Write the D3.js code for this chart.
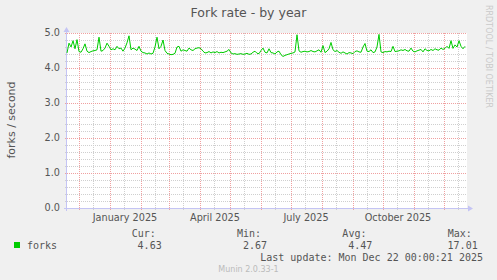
<!DOCTYPE html>
<meta charset="utf-8">
<script src="https://d3js.org/d3.v7.min.js"></script>
<style>
  body { margin: 0; background: #f0f0f0; }
  svg { display: block; }
  text { font-family: "DejaVu Sans", sans-serif; fill: #555; }
  .mono { font-family: "DejaVu Sans Mono", monospace; }
</style>
<div id="chart"></div>
<script>

// first sample and spacing of the samples (days)
var firstSample = new Date(Date.UTC(2024, 10, 19));
var stepDays = 2;

// fork rate, one value every two days
var forks = [
  4.43, 4.71, 4.60, 4.78, 4.55, 4.81, 4.47, 4.45, 4.55, 4.69, 4.48, 4.44, 4.47, 4.49, 4.50, 4.52,
  4.88, 4.48, 4.50, 4.57, 4.71, 4.62, 4.52,
  4.55, 4.52, 4.62, 4.55, 4.57, 4.48, 4.57, 4.72, 4.92, 4.52, 4.57, 4.54, 4.50, 4.62, 4.48, 4.44,
  4.43, 4.40, 4.43, 4.40, 4.42, 4.60, 4.88, 4.55, 4.62, 4.80, 4.50, 4.42, 4.40, 4.38, 4.39, 4.42,
  4.60, 4.62, 4.48, 4.52, 4.50, 4.48, 4.57, 4.52, 4.50, 4.55, 4.57, 4.58,
  4.55, 4.48, 4.43, 4.44, 4.47, 4.43, 4.46, 4.44, 4.47, 4.43, 4.45, 4.44, 4.46, 4.48, 4.53, 4.43,
  4.40, 4.41, 4.39, 4.40, 4.41, 4.39, 4.40, 4.42, 4.39, 4.40, 4.45, 4.48, 4.42, 4.41, 4.50, 4.57,
  4.45, 4.43, 4.55, 4.44, 4.43, 4.40, 4.46, 4.48, 4.38, 4.33, 4.36, 4.38, 4.40, 4.42, 4.43, 4.46,
  4.95, 4.49, 4.45, 4.47, 4.48, 4.46, 4.47, 4.50, 4.47, 4.46, 4.49, 4.52, 4.45, 4.64, 4.44, 4.48,
  4.55, 4.73, 4.52,
  4.47, 4.50, 4.45, 4.42, 4.46, 4.43, 4.40, 4.44, 4.43, 4.41, 4.47, 4.49, 4.46, 4.45, 4.60, 4.70,
  4.48, 4.47, 4.52, 4.44, 4.46, 4.60, 4.96, 4.46, 4.44, 4.47, 4.46, 4.48, 4.47, 4.62, 4.47, 4.48,
  4.49, 4.52, 4.50, 4.53, 4.49, 4.48, 4.57, 4.48, 4.46, 4.49, 4.51, 4.53, 4.46, 4.55, 4.50, 4.49,
  4.53, 4.50, 4.55, 4.52, 4.51, 4.57, 4.53, 4.56, 4.62, 4.56, 4.78, 4.56, 4.66, 4.60, 4.78, 4.62,
  4.55, 4.62
];

var yTicks = [0, 1, 2, 3, 4, 5];
var statNames = ["Cur:", "Min:", "Avg:", "Max:"];
var statValues = ["4.63", "2.67", "4.47", "17.01"];

var width = 497, height = 280;
var plot = {left: 67, right: 467, top: 33, bottom: 208};

var svg = d3.select("#chart")
  .append("svg")
    .attr("width", width)
    .attr("height", height);

svg.append("rect")
  .attr("width", width)
  .attr("height", height)
  .attr("fill", "#f0f0f0");

// 400 days shown in the yearly graph
var x = d3.scaleUtc()
  .domain([firstSample, d3.utcDay.offset(firstSample, 400)])
  .range([plot.left, plot.right]);

var y = d3.scaleLinear()
  .domain([0, 5])
  .range([plot.bottom, plot.top]);

svg.append("rect")
  .attr("x", plot.left)
  .attr("y", plot.top)
  .attr("width", plot.right - plot.left)
  .attr("height", plot.bottom - plot.top)
  .attr("fill", "#ffffff");

function px(v) { return Math.round(v) + 0.5; }

// horizontal grid
var minorY = d3.range(0, 5.01, 0.2).filter(function(v) {
  return Math.abs(v - Math.round(v)) > 0.01;
});
svg.append("g").selectAll("line")
  .data(minorY)
  .enter().append("line")
    .attr("x1", plot.left - 2)
    .attr("x2", plot.right)
    .attr("y1", function(d) { return px(y(d)); })
    .attr("y2", function(d) { return px(y(d)); })
    .attr("stroke", "#cfcfcf")
    .attr("stroke-dasharray", "1,1");

// vertical grid, middle of each month
var months = d3.utcMonth.range(d3.utcMonth.floor(x.domain()[0]), x.domain()[1]);
var midMonths = months.map(function(m) { return d3.utcDay.offset(m, 14); })
  .filter(function(d) { return d > x.domain()[0] && d < x.domain()[1]; });

svg.append("g").selectAll("line")
  .data(midMonths)
  .enter().append("line")
    .attr("x1", function(d) { return px(x(d)); })
    .attr("x2", function(d) { return px(x(d)); })
    .attr("y1", plot.top)
    .attr("y2", plot.bottom + 3)
    .attr("stroke", "#cfcfcf")
    .attr("stroke-dasharray", "1,1");

// major grid
svg.append("g").selectAll("line")
  .data(yTicks)
  .enter().append("line")
    .attr("x1", plot.left - 2)
    .attr("x2", plot.right)
    .attr("y1", function(d) { return px(y(d)); })
    .attr("y2", function(d) { return px(y(d)); })
    .attr("stroke", "#f0a0a0")
    .attr("stroke-dasharray", "1,1");

svg.append("g").selectAll("line")
  .data(x.ticks(d3.utcMonth))
  .enter().append("line")
    .attr("x1", function(d) { return px(x(d)); })
    .attr("x2", function(d) { return px(x(d)); })
    .attr("y1", plot.top)
    .attr("y2", plot.bottom + 3)
    .attr("stroke", "#f0a0a0")
    .attr("stroke-dasharray", "1,1");

// axes
var axisColor = "#c4c4f4";
svg.append("line")
  .attr("x1", plot.left - 3).attr("x2", plot.right + 2)
  .attr("y1", px(plot.bottom)).attr("y2", px(plot.bottom))
  .attr("stroke", axisColor);
svg.append("line")
  .attr("x1", px(plot.left - 1)).attr("x2", px(plot.left - 1))
  .attr("y1", plot.bottom + 3).attr("y2", plot.top - 2)
  .attr("stroke", axisColor);
svg.append("path")
  .attr("d", "M" + (plot.right + 1) + "," + (plot.bottom - 2.5) + "L" + (plot.right + 6) + "," + (plot.bottom + 0.5) +
             "L" + (plot.right + 1) + "," + (plot.bottom + 3.5) + "Z")
  .attr("fill", axisColor);
svg.append("path")
  .attr("d", "M" + (plot.left - 3.5) + "," + (plot.top - 1) + "L" + (plot.left - 0.5) + "," + (plot.top - 6) +
             "L" + (plot.left + 2.5) + "," + (plot.top - 1) + "Z")
  .attr("fill", axisColor);

// y labels
svg.append("g").selectAll("text")
  .data(yTicks)
  .enter().append("text")
    .attr("x", plot.left - 7)
    .attr("y", function(d) { return y(d); })
    .attr("dy", "0.36em")
    .attr("text-anchor", "end")
    .style("font-size", "9.7px")
    .text(d3.format(".1f"));

// x labels, centred in the month
svg.append("g").selectAll("text")
  .data(x.ticks(d3.utcMonth.every(3)))
  .enter().append("text")
    .attr("x", function(d) { return x(d3.utcDay.offset(d, 15)); })
    .attr("y", plot.bottom + 13)
    .attr("text-anchor", "middle")
    .style("font-size", "9.7px")
    .text(d3.utcFormat("%B %Y"));

// the line
var line = d3.line()
  .x(function(d, i) { return x(d3.utcDay.offset(firstSample, i * stepDays)); })
  .y(function(d) { return y(d); });

svg.append("path")
  .datum(forks)
  .attr("d", line)
  .attr("fill", "none")
  .attr("stroke", "#00cc00")
  .attr("stroke-width", 1);

// titles
svg.append("text")
  .attr("x", width / 2)
  .attr("y", 17)
  .attr("text-anchor", "middle")
  .style("font-size", "12.5px")
  .text("Fork rate - by year");

svg.append("text")
  .attr("transform", "translate(15,120)rotate(-90)")
  .attr("text-anchor", "middle")
  .style("font-size", "11px")
  .text("forks / second");

svg.append("text")
  .attr("transform", "translate(485.5,5)rotate(90)")
  .attr("text-anchor", "start")
  .style("font-size", "8px")
  .style("fill", "#cacaca")
  .text("RRDTOOL / TOBI OETIKER");

// legend
svg.append("rect")
  .attr("x", 14).attr("y", 242)
  .attr("width", 6).attr("height", 6)
  .attr("fill", "#00cc00");

svg.append("text")
  .attr("class", "mono")
  .attr("x", 27).attr("y", 249)
  .style("font-size", "10px")
  .text("forks");

var colX = d3.scalePoint()
  .domain(statNames)
  .range([131.7, 447.7]);

svg.append("g").selectAll("text")
  .data(statNames)
  .enter().append("text")
    .attr("class", "mono")
    .attr("x", function(d) { return colX(d); })
    .attr("y", 237)
    .style("font-size", "10px")
    .text(function(d) { return d; });

svg.append("g").selectAll("text")
  .data(statValues)
  .enter().append("text")
    .attr("class", "mono")
    .attr("x", function(d, i) { return colX(statNames[i]) + 30; })
    .attr("y", 249)
    .attr("text-anchor", "end")
    .style("font-size", "10px")
    .text(function(d) { return d; });

svg.append("text")
  .attr("class", "mono")
  .attr("x", 483).attr("y", 261)
  .attr("text-anchor", "end")
  .style("font-size", "10px")
  .text("Last update: Mon Dec 22 00:00:21 2025");

svg.append("text")
  .attr("x", width / 2).attr("y", 272)
  .attr("text-anchor", "middle")
  .style("font-size", "8px")
  .style("fill", "#bbbbbb")
  .text("Munin 2.0.33-1");

</script>
